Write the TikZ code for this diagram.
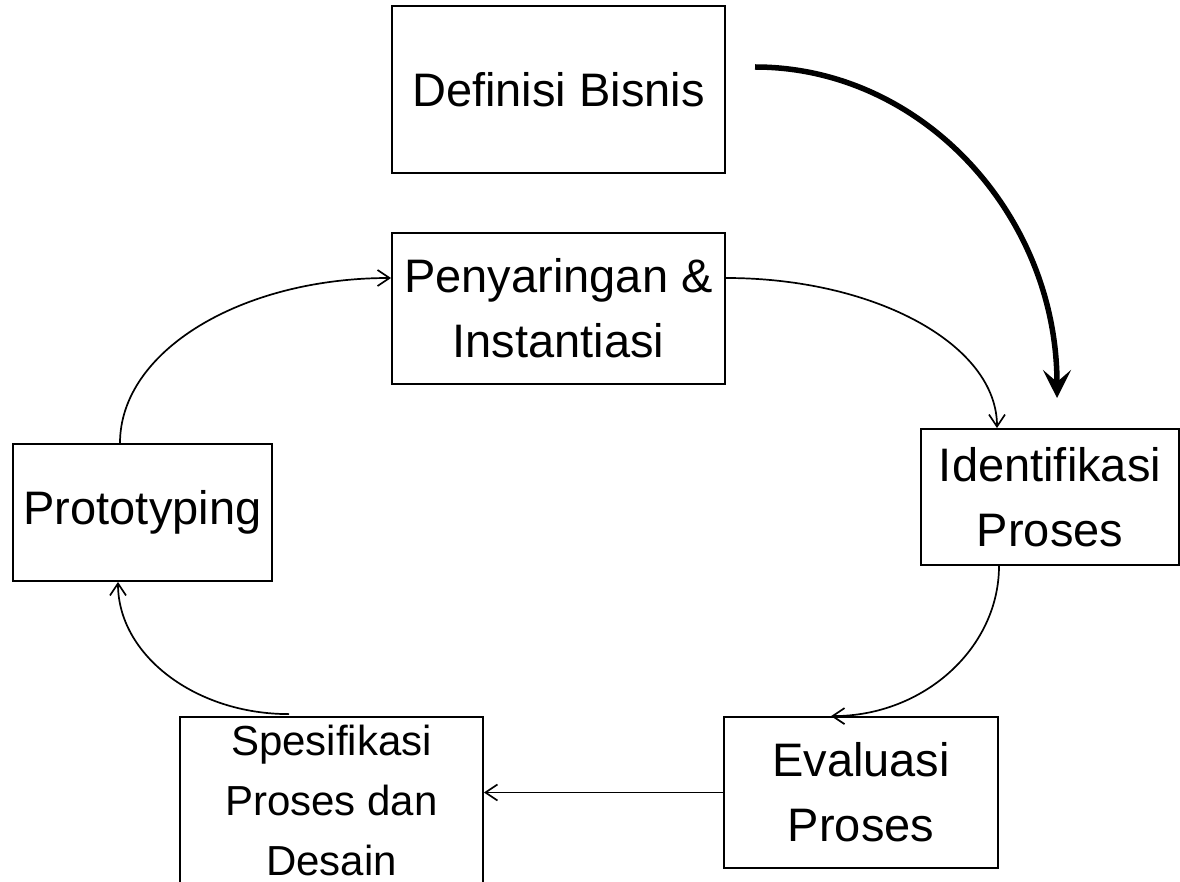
\documentclass[tikz,border=0pt]{standalone}
\usepackage{fontspec}
\setmainfont{Liberation Sans}
\usetikzlibrary{arrows.meta,calc}
\begin{document}
\begin{tikzpicture}[x=1pt,y=-1pt,
  box/.style={draw, line width=1.8pt, inner sep=0pt, align=center, font=\fontsize{47}{65}\selectfont},
  conn/.style={line width=1.7pt, -{Straight Barb[length=12pt,width=16pt]}},
  thickconn/.style={line width=5.5pt, -{Stealth[length=28pt,width=28pt,inset=12pt]}}
  ]
\useasboundingbox (0,0) rectangle (1180,882);
\node[box, minimum width=333pt, minimum height=167pt] (def) at (558.5,89.5) {Definisi Bisnis};
\node[box, minimum width=333pt, minimum height=151pt] (pen) at (558.5,308.5) {Penyaringan \&\\Instantiasi};
\node[box, minimum width=258pt, minimum height=136pt] (ide) at (1050,497) {Identifikasi\\Proses};
\node[box, minimum width=274pt, minimum height=151pt] (eva) at (861,792.5) {Evaluasi\\Proses};
\node[box, minimum width=303pt, minimum height=166pt, font=\fontsize{42}{60}\selectfont] (spe) at (331.5,800) {Spesifikasi\\Proses dan\\Desain};
\node[box, minimum width=259pt, minimum height=137pt] (proto) at (142.5,512.5) {Prototyping};
\coordinate (ts) at (755,67);
\coordinate (te) at (1057,398);
\draw[thickconn] (ts) .. controls +(167,0) and +(0,-183) .. (te);
\draw[conn] ($(pen.east)+(0,-30.5)$) .. controls +(150,0) and +(0,-83) .. ($(ide.north)+(-53,0)$);
\draw[conn] ($(ide.south)+(-51,0)$) .. controls +(0,82) and +(93,0) .. ($(eva.north)+(-30,0)$);
\draw[conn] (eva.west) -- (eva.west -| spe.east);
\draw[conn] ($(spe.north)+(-42.5,-2)$) .. controls +(-94,0) and +(0,73) .. ($(proto.south)+(-24.5,0)$);
\draw[conn] ($(proto.north)+(-22.5,0)$) .. controls +(0,-92) and +(-150,0) .. ($(pen.west)+(0,-30.5)$);
\end{tikzpicture}
\end{document}
